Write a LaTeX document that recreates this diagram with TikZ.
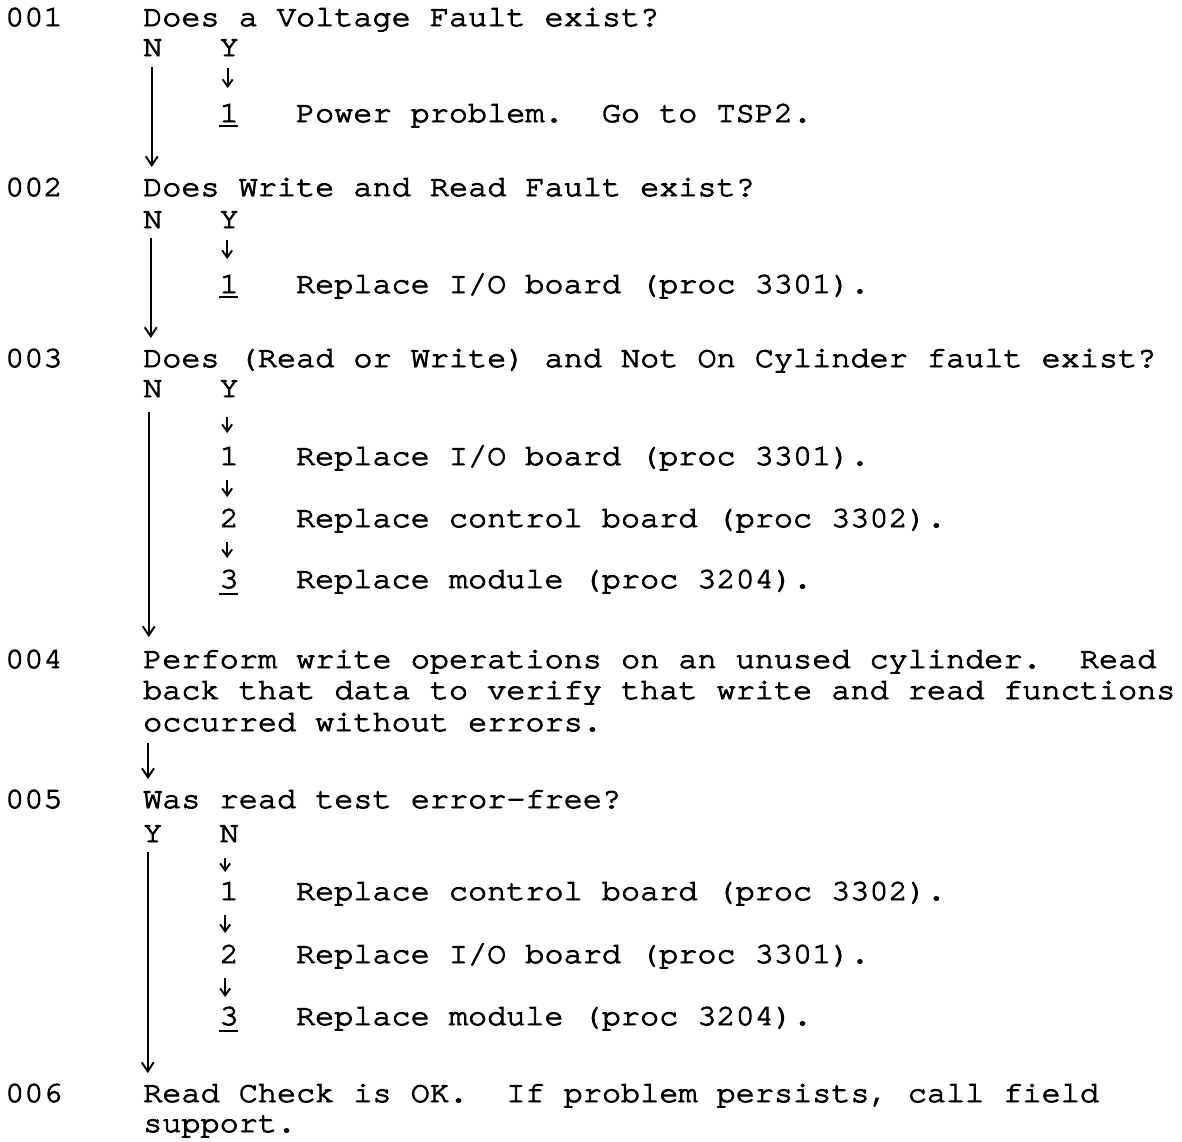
\documentclass[tikz,border=0pt]{standalone}
\usepackage{fontspec}
\usetikzlibrary{arrows.meta}
\newfontfamily\tw[FakeStretch=1.08,FakeBold=3.2,Ligatures={NoCommon}]{texgyrecursor-regular.otf}
\newcommand{\twf}{\tw\fontsize{29.5pt}{31pt}\selectfont}
\begin{document}
\frenchspacing
\begin{tikzpicture}[x=1pt,y=-1pt,
  tx/.style={anchor=base west,inner sep=0pt,font=\twf},
  longarr/.style={line width=1.9pt,-{Straight Barb[length=9pt,width=12pt]}},
  smallarr/.style={line width=1.9pt,-{Straight Barb[length=7pt,width=10pt]}},
  uline/.style={line width=1.9pt}]
\fill[white] (0,0) rectangle (1182,1141);
\useasboundingbox (0,0) rectangle (1182,1141);
\def\cN{5}\def\cA{143}\def\cB{219.4}\def\cC{295.8}
% ---------- 001
\node[tx] (l1) at (\cN,26) {001};
\node[tx] (q1) at (\cA,26) {Does a Voltage Fault exist?};
\node[tx] (n1) at (\cA,56) {N};
\node[tx] (y1) at (\cB,56) {Y};
\node[tx] (d1) at (\cB,122) {1};
\node[tx] (t1) at (\cC,122) {Power problem.\ \ Go to TSP2.};
% ---------- 002
\node[tx] (l2) at (\cN,196) {002};
\node[tx] (q2) at (\cA,196) {Does Write and Read Fault exist?};
\node[tx] (n2) at (\cA,228) {N};
\node[tx] (y2) at (\cB,228) {Y};
\node[tx] (d2) at (\cB,293) {1};
\node[tx] (t2) at (\cC,293) {Replace I/O board (proc 3301).};
% ---------- 003
\node[tx] (l3) at (\cN,367) {003};
\node[tx] (q3) at (\cA,367) {Does (Read or Write) and Not On Cylinder fault exist?};
\node[tx] (n3) at (\cA,397) {N};
\node[tx] (y3) at (\cB,397) {Y};
\node[tx] (d3a) at (\cB,465) {1};
\node[tx] (t3a) at (\cC,465) {Replace I/O board (proc 3301).};
\node[tx] (d3b) at (\cB,527) {2};
\node[tx] (t3b) at (\cC,527) {Replace control board (proc 3302).};
\node[tx] (d3c) at (\cB,588) {3};
\node[tx] (t3c) at (\cC,588) {Replace module (proc 3204).};
% ---------- 004
\node[tx] (l4) at (\cN,668) {004};
\node[tx] (q4a) at (\cA,668) {Perform write operations on an unused cylinder.\ \ Read};
\node[tx] (q4b) at (\cA,699) {back that data to verify that write and read functions};
\node[tx] (q4c) at (\cA,731) {occurred without errors.};
% ---------- 005
\node[tx] (l5) at (\cN,808) {005};
\node[tx] (q5) at (\cA,808) {Was read test error-free?};
\node[tx] (y5) at (\cA,842) {Y};
\node[tx] (n5) at (\cB,842) {N};
\node[tx] (d5a) at (\cB,900) {1};
\node[tx] (t5a) at (\cC,900) {Replace control board (proc 3302).};
\node[tx] (d5b) at (\cB,963) {2};
\node[tx] (t5b) at (\cC,963) {Replace I/O board (proc 3301).};
\node[tx] (d5c) at (\cB,1025) {3};
\node[tx] (t5c) at (\cC,1025) {Replace module (proc 3204).};
% ---------- 006
\node[tx] (l6) at (\cN,1102) {006};
\node[tx] (q6a) at (\cA,1102) {Read Check is OK.\ \ If problem persists, call field};
\node[tx] (q6b) at (\cA,1132) {support.};
% ---------- underlines
\draw[uline] ([yshift=-4pt]d1.base west) -- ([yshift=-4pt,xshift=-1pt]d1.base east);
\draw[uline] ([yshift=-4pt]d2.base west) -- ([yshift=-4pt,xshift=-1pt]d2.base east);
\draw[uline] ([yshift=-6pt]d3c.base west) -- ([yshift=-6pt,xshift=-1pt]d3c.base east);
\draw[uline] ([yshift=-6pt]d5c.base west) -- ([yshift=-6pt,xshift=-1pt]d5c.base east);
% ---------- long arrows
\coordinate (a1) at ([xshift=-1pt]n1.base);
\draw[longarr,shorten <=11pt,shorten >=29pt] (a1) -- (a1 |- q2.base);
\coordinate (a2) at ([xshift=-2pt]n2.base);
\draw[longarr,shorten <=10pt,shorten >=29pt] (a2) -- (a2 |- q3.base);
\coordinate (a3) at ([xshift=-4pt]n3.base);
\draw[longarr,shorten <=15pt,shorten >=31pt] (a3) -- (a3 |- q4a.base);
\coordinate (a4) at ([xshift=5pt]q4c.base west);
\draw[longarr,shorten <=12pt,shorten >=29pt] (a4) -- (a4 |- q5.base);
\coordinate (a5) at ([xshift=-5pt]y5.base);
\draw[longarr,shorten <=10pt,shorten >=29pt] (a5) -- (a5 |- q6a.base);
% ---------- small arrows
\coordinate (b1) at ([xshift=-1.5pt]y1.base);
\draw[smallarr,shorten <=12pt,shorten >=34pt] (b1) -- (b1 |- d1.base);
\coordinate (b2) at ([xshift=-2pt]y2.base);
\draw[smallarr,shorten <=12pt,shorten >=34pt] (b2) -- (b2 |- d2.base);
\coordinate (b3) at ([xshift=-2pt]y3.base);
\draw[smallarr,shorten <=20pt,shorten >=32pt] (b3) -- (b3 |- d3a.base);
\coordinate (b3a) at ([xshift=-2pt]d3a.base);
\draw[smallarr,shorten <=15pt,shorten >=30pt] (b3a) -- (b3a |- d3b.base);
\coordinate (b3b) at ([xshift=-2pt]d3b.base);
\draw[smallarr,shorten <=15pt,shorten >=30pt] (b3b) -- (b3b |- d3c.base);
\coordinate (b5) at ([xshift=-4pt]n5.base);
\draw[smallarr,shorten <=16pt,shorten >=28pt] (b5) -- (b5 |- d5a.base);
\coordinate (b5a) at ([xshift=-4pt]d5a.base);
\draw[smallarr,shorten <=15pt,shorten >=30pt] (b5a) -- (b5a |- d5b.base);
\coordinate (b5b) at ([xshift=-4pt]d5b.base);
\draw[smallarr,shorten <=15pt,shorten >=28pt] (b5b) -- (b5b |- d5c.base);
\end{tikzpicture}
\end{document}
